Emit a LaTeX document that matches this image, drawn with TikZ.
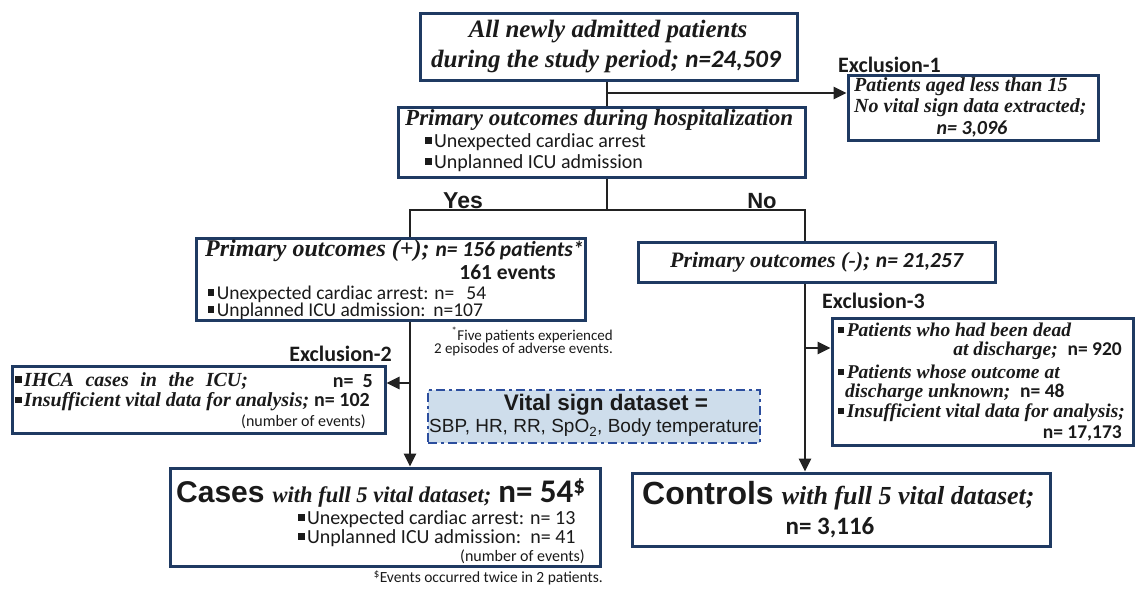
\documentclass[tikz,border=0pt]{standalone}
\usepackage{fontspec}
\setmainfont{Liberation Serif}
\newfontfamily\calfont{Carlito}
\newfontfamily\arialfont{Liberation Sans}
\usetikzlibrary{arrows.meta}
\definecolor{navy}{HTML}{1F3A62}
\definecolor{linec}{HTML}{222222}
\definecolor{txtc}{HTML}{1A1A1A}
\definecolor{vfill}{HTML}{CEDDEB}
\definecolor{vline}{HTML}{2C4E9E}
\newcommand{\fs}[1]{\fontsize{#1}{#1}\selectfont}
\newcommand{\sqb}{\rule[0.18em]{0.32em}{0.32em}\hspace{0.12em}}
\newcommand{\tb}[1]{{\bfseries\itshape #1}}
\newcommand{\cb}[1]{{\calfont\bfseries #1}}
\newcommand{\cbi}[1]{{\calfont\bfseries\itshape #1}}
\tikzset{
  box/.style={draw=navy, line width=3pt, fill=white, inner sep=0pt},
  conn/.style={draw=linec, line width=2.6pt},
  arr/.style={conn, -{Triangle[length=13pt,width=12pt]}},
  txt/.style={inner sep=0pt, text=txtc},
  vbox/.style={draw=vline, fill=vfill, line width=2.4pt, inner sep=0pt,
    dash pattern=on 9pt off 4pt on 3pt off 4pt}
}
\begin{document}
\begin{tikzpicture}[x=1pt,y=-1pt]
\useasboundingbox (0,0) rectangle (1135,590);
% boxes
\node[box, minimum width=377pt, minimum height=67pt] (top) at (608.5,46.5) {};
\node[box, minimum width=407pt, minimum height=70pt] (prim) at (601.5,142) {};
\node[box, minimum width=250pt, minimum height=65pt] (ex1) at (973,107.5) {};
\node[box, minimum width=389pt, minimum height=82pt] (pos) at (390.5,279) {};
\node[box, minimum width=357pt, minimum height=40pt] (neg) at (816.5,262) {};
\node[box, minimum width=373pt, minimum height=67pt] (ex2) at (198.5,399.5) {};
\node[vbox, minimum width=332pt, minimum height=53pt] (vs) at (594,416.5) {};
\node[box, minimum width=301pt, minimum height=127pt] (ex3) at (982.5,381.5) {};
\node[box, minimum width=430pt, minimum height=98pt] (cases) at (385,517) {};
\node[box, minimum width=418pt, minimum height=73pt] (ctrl) at (841,509.5) {};
% junctions
\coordinate (j1) at (607,93);
\coordinate (jl) at (410,210);
\coordinate (jr) at (805,210);
\coordinate (j3) at (410,383);
\coordinate (j4) at (805,348);
% connectors
\draw[conn] (j1 |- top.south) -- (j1 |- prim.north);
\draw[arr] (j1) -- (j1 -| ex1.west);
\draw[conn] (j1 |- prim.south) -- (j1 |- jl);
\draw[conn] (jl |- pos.north) -- (jl) -- (jr) -- (jr |- neg.north);
\draw[arr] (jl |- pos.south) -- (jl |- cases.north);
\draw[arr] (j3) -- (j3 -| ex2.east);
\draw[arr] (jr |- neg.south) -- (jr |- ctrl.north);
\draw[arr] (j4) -- (j4 -| ex3.west);
% top box text
\node[txt, font=\fs{25}] (t1) at (608,32) {\tb{All newly admitted patients}};
\node[txt, font=\fs{25}] (t2) at (606,62) {\tb{during the study period;} \cbi{n=24,509}};
% primary box text
\node[txt, font=\fs{23}, anchor=west] (p1) at (405,120) {\tb{Primary outcomes during hospitalization}};
\node[txt, font=\calfont\fs{20}, anchor=west] (p2) at (425,142) {\sqb Unexpected cardiac arrest};
\node[txt, font=\calfont\fs{20}, anchor=west] (p3) at (425,163) {\sqb Unplanned ICU admission};
% exclusion-1
\node[txt, font=\calfont\bfseries\fs{22}, anchor=west] (e1l) at (838,65) {Exclusion-1};
\node[txt, font=\fs{20}, anchor=west] (e1a) at (854,87) {\tb{Patients aged less than 15}};
\node[txt, font=\fs{20}, anchor=west] (e1b) at (854,108) {\tb{No vital sign data extracted;}};
\node[txt, font=\fs{20}] (e1c) at (972,129) {\cbi{n= 3,096}};
% yes / no
\node[txt, font=\arialfont\bfseries\fs{23}] (yes) at (463,201) {Yes};
\node[txt, font=\arialfont\bfseries\fs{22}] (no) at (762,201) {No};
% positive box
\node[txt, anchor=west] (q1) at (205,251) {\fs{24}\tb{Primary outcomes (+);} \cbi{\fs{21.5}n= 156 patients*}};
\node[txt, font=\calfont\bfseries\fs{21.5}, anchor=east] (q2) at (556,272) {161 events};
\node[txt, font=\calfont\fs{19.5}, anchor=west] (q3) at (208,294) {\sqb Unexpected cardiac arrest: n=\ \ \,54};
\node[txt, font=\calfont\fs{19.5}, anchor=west] (q4) at (208,311) {\sqb Unplanned ICU admission:\ \,n=107};
% footnote *
\node[txt, font=\calfont\fs{15}, anchor=east] (f1) at (613,335) {\textsuperscript{*}Five patients experienced};
\node[txt, font=\calfont\fs{15}, anchor=east] (f2) at (613,349) {2 episodes of adverse events.};
% negative box
\node[txt] (n1) at (816.5,262) {\fs{22}\tb{Primary outcomes (-);} \cbi{\fs{21.5}n= 21,257}};
% exclusion-2
\node[txt, font=\calfont\bfseries\fs{22}, anchor=east] (e2l) at (392,354) {Exclusion-2};
\node[txt, font=\fs{20}, anchor=west] (e2a) at (15,381) {\sqb\makebox[224pt][s]{\tb{IHCA cases in the ICU;}}};
\node[txt, font=\calfont\bfseries\fs{20}, anchor=east] (e2b) at (373,381) {n=\ \ 5};
\node[txt, font=\fs{20}, anchor=west] (e2c) at (15,402) {\sqb\tb{Insufficient vital data for analysis;} \cb{n= 102}};
\node[txt, font=\calfont\fs{16}, anchor=east] (e2d) at (366,422) {(number of events)};
% vital sign box
\node[txt, font=\arialfont\bfseries\fs{22.5}] (v1) at (606,405) {Vital sign dataset =};
\node[txt, font=\arialfont\fs{19}] (v2) at (594,428) {SBP, HR, RR, SpO\textsubscript{2}, Body temperature};
% exclusion-3
\node[txt, font=\calfont\bfseries\fs{22}, anchor=west] (e3l) at (822,301) {Exclusion-3};
\node[txt, font=\fs{19.5}, anchor=west] (e3a) at (838,330) {\sqb\tb{Patients who had been dead}};
\node[txt, font=\fs{19.5}, anchor=east] (e3b) at (1122,351) {\tb{at discharge;}\ \ \cb{n= 920}};
\node[txt, font=\fs{19.5}, anchor=west] (e3c) at (838,372) {\sqb\tb{Patients whose outcome at}};
\node[txt, font=\fs{19.5}, anchor=west] (e3d) at (845,393) {\tb{discharge unknown;}\ \ \cb{n= 48}};
\node[txt, font=\fs{19.5}, anchor=west] (e3e) at (838,413) {\sqb\tb{Insufficient vital data for analysis;}};
\node[txt, font=\calfont\bfseries\fs{19.5}, anchor=east] (e3f) at (1122,433) {n= 17,173};
% cases box
\node[txt, anchor=west] (c1) at (176,493) {{\arialfont\bfseries\fs{30}Cases}\hspace{8pt}{\fs{22.5}\tb{with full 5 vital dataset;}}\hspace{7pt}{\calfont\bfseries\fs{33}n= 54\textsuperscript{\$}}};
\node[txt, font=\calfont\fs{20}, anchor=west] (c2) at (298,519) {\sqb Unexpected cardiac arrest: n= 13};
\node[txt, font=\calfont\fs{20}, anchor=west] (c3) at (298,538) {\sqb Unplanned ICU admission:\ \ n= 41};
\node[txt, font=\calfont\fs{16}, anchor=east] (c4) at (585,557) {(number of events)};
\node[txt, font=\calfont\fs{15.5}, anchor=east] (f3) at (603,578) {\textsuperscript{\$}Events occurred twice in 2 patients.};
% controls box
\node[txt, anchor=west] (k1) at (642,496) {{\arialfont\bfseries\fs{32}Controls}\hspace{8pt}{\fs{26}\tb{with full 5 vital dataset;}}};
\node[txt, font=\calfont\bfseries\fs{25}] (k2) at (830,528) {n= 3,116};
\end{tikzpicture}
\end{document}
